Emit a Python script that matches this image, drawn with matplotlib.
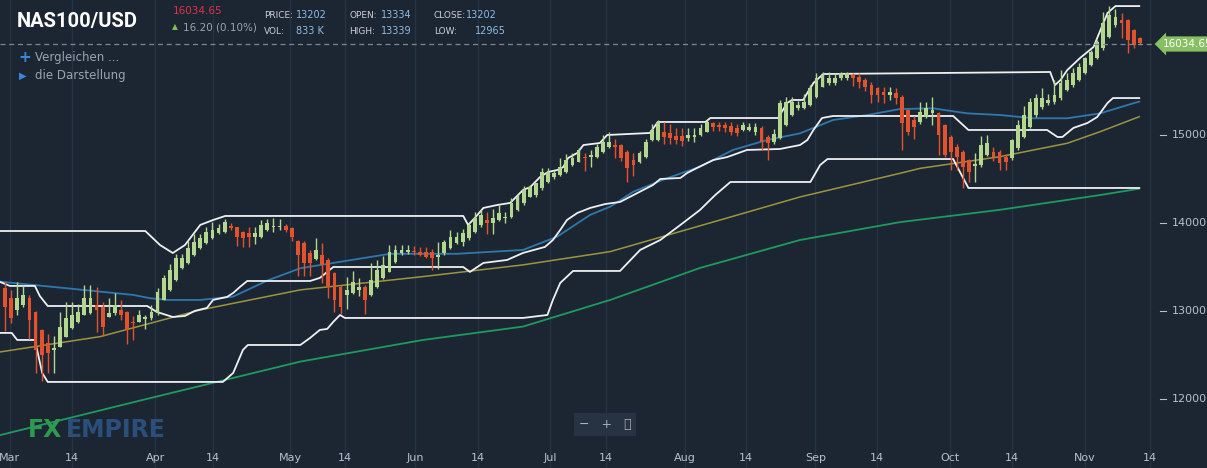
"""NAS100/USD daily candles with moving averages and channel lines (FX Empire style)."""

import matplotlib

matplotlib.use("Agg")
import matplotlib.pyplot as plt  # noqa: E402
import numpy as np  # noqa: E402

# ---- data --------------------------------------------------------------------
opens = [13258, 13145, 13012, 13069, 13145, 12990, 12785, 12634, 12560, 12596, 12709, 12804, 12880, 12955, 12974, 13069,
         13050, 12937, 12974, 13012, 12993, 12880, 12880, 12910, 12918, 12974, 13126, 13240, 13353, 13486, 13542, 13637,
         13713, 13770, 13826, 13883, 13902, 13967, 13951, 13902, 13883, 13845, 13845, 13921, 13950, 13950, 13967, 13940,
         13800, 13770, 13656, 13588, 13637, 13580, 13429, 13277, 13183, 13202, 13240, 13277, 13183, 13277, 13372, 13448,
         13561, 13656, 13670, 13680, 13675, 13675, 13675, 13618, 13656, 13713, 13770, 13789, 13826, 13902, 13978, 14035,
         13997, 14035, 14060, 14073, 14148, 14224, 14300, 14319, 14394, 14470, 14527, 14546, 14584, 14660, 14697, 14754,
         14754, 14754, 14811, 14860, 14886, 14886, 14811, 14716, 14697, 14754, 14943, 14943, 15038, 15019, 14988, 14988,
         14962, 14973, 15000, 15038, 15132, 15114, 15114, 15102, 15076, 15057, 15057, 15038, 15076, 14981, 14924, 14962,
         15114, 15227, 15303, 15303, 15341, 15435, 15549, 15587, 15587, 15644, 15644, 15682, 15655, 15625, 15568, 15530,
         15492, 15454, 15473, 15435, 15284, 15170, 15152, 15209, 15246, 15246, 15114, 14981, 14868, 14811, 14716, 14650,
         14659, 14773, 14811, 14811, 14754, 14735, 14849, 14981, 15095, 15227, 15322, 15360, 15379, 15417, 15511, 15568,
         15625, 15701, 15796, 15871, 15985, 16117, 16250, 16307, 16307, 16193, 16100]
highs = [13330, 13240, 13330, 13290, 13180, 13000, 12800, 12740, 12720, 12990, 13100, 13100, 13080, 13290, 13300, 13270,
         13100, 13150, 13200, 13120, 13000, 12940, 13010, 12960, 13070, 13260, 13410, 13530, 13650, 13650, 13800, 13870,
         13870, 13960, 14010, 13990, 14050, 14000, 13960, 13910, 13960, 13960, 14030, 14040, 14060, 14050, 13990, 13960,
         13810, 13800, 13690, 13830, 13770, 13600, 13440, 13290, 13390, 13450, 13380, 13290, 13540, 13580, 13630, 13750,
         13750, 13750, 13750, 13740, 13730, 13730, 13710, 13780, 13810, 13920, 13900, 13930, 14000, 14120, 14150, 14120,
         14160, 14200, 14120, 14280, 14330, 14420, 14430, 14460, 14620, 14620, 14600, 14740, 14780, 14790, 14850, 14800,
         14830, 14900, 15000, 15030, 14950, 14900, 14830, 14800, 14820, 14950, 15130, 15170, 15150, 15120, 15080, 15080,
         15080, 15080, 15120, 15170, 15150, 15150, 15150, 15150, 15120, 15150, 15140, 15140, 15100, 15000, 15070, 15400,
         15430, 15430, 15390, 15470, 15570, 15700, 15720, 15720, 15710, 15720, 15720, 15700, 15700, 15650, 15600, 15550,
         15550, 15550, 15530, 15450, 15300, 15220, 15370, 15370, 15430, 15260, 15130, 15000, 14900, 14830, 14730, 14790,
         14990, 15000, 14860, 14830, 14780, 14960, 15170, 15330, 15420, 15470, 15530, 15470, 15630, 15740, 15700, 15760,
         15820, 15890, 15970, 16080, 16400, 16470, 16430, 16390, 16320, 16210, 16110]
lows = [12770, 12860, 12950, 13040, 12680, 12300, 12210, 12300, 12300, 12590, 12700, 12790, 12860, 12950, 12970, 12760,
        12720, 12930, 12960, 12900, 12630, 12670, 12870, 12790, 12900, 12960, 13120, 13230, 13340, 13480, 13530, 13630,
        13700, 13760, 13820, 13870, 13890, 13920, 13740, 13730, 13730, 13760, 13830, 13910, 13900, 13920, 13900, 13800,
        13400, 13400, 13400, 13580, 13320, 13145, 12990, 12970, 13020, 13190, 13170, 12970, 13170, 13260, 13360, 13440,
        13550, 13640, 13650, 13640, 13620, 13600, 13470, 13480, 13640, 13700, 13760, 13740, 13810, 13890, 13960, 13880,
        13870, 14020, 14000, 14060, 14140, 14210, 14290, 14300, 14380, 14460, 14500, 14530, 14570, 14650, 14690, 14590,
        14640, 14740, 14800, 14850, 14740, 14700, 14470, 14530, 14680, 14740, 14930, 14930, 14900, 14900, 14900, 14880,
        14930, 14920, 14990, 15030, 15050, 15050, 15030, 15000, 14990, 15040, 15040, 15000, 14830, 14720, 14900, 14950,
        15100, 15220, 15280, 15290, 15330, 15420, 15540, 15570, 15570, 15630, 15630, 15560, 15530, 15500, 15360, 15380,
        15360, 15400, 15350, 14830, 15000, 14960, 15130, 15190, 15110, 14770, 14750, 14600, 14600, 14400, 14470, 14470,
        14640, 14760, 14700, 14600, 14600, 14720, 14830, 14970, 15080, 15210, 15300, 15340, 15350, 15400, 15500, 15550,
        15610, 15690, 15780, 15860, 15970, 16100, 16230, 16100, 15930, 15990, 16020]
closes = [13050, 12918, 13145, 13183, 12899, 12558, 12501, 12520, 12580, 12823, 12918, 12955, 12993, 13145, 13145, 13012,
          12823, 12974, 13069, 12955, 12785, 12860, 12955, 12935, 12993, 13220, 13372, 13467, 13599, 13599, 13713, 13789,
          13826, 13902, 13921, 13940, 14016, 13940, 13845, 13826, 13845, 13883, 13978, 13997, 13960, 13965, 13921, 13845,
          13637, 13543, 13543, 13694, 13524, 13277, 13126, 13050, 13240, 13334, 13277, 13126, 13353, 13467, 13524, 13675,
          13694, 13694, 13694, 13675, 13637, 13618, 13599, 13637, 13788, 13845, 13845, 13883, 13978, 14054, 14092, 13997,
          14054, 14111, 14073, 14224, 14300, 14376, 14413, 14451, 14584, 14584, 14565, 14641, 14716, 14735, 14830, 14735,
          14773, 14868, 14925, 14925, 14860, 14735, 14621, 14659, 14792, 14924, 15057, 15151, 14981, 14962, 14943, 14935,
          15000, 15000, 15076, 15151, 15095, 15095, 15076, 15038, 15019, 15114, 15095, 15095, 14924, 14905, 15011, 15360,
          15379, 15379, 15341, 15379, 15530, 15644, 15682, 15644, 15644, 15700, 15700, 15644, 15606, 15549, 15454, 15454,
          15454, 15492, 15416, 15132, 15038, 15095, 15265, 15303, 15284, 15000, 14773, 14811, 14754, 14641, 14584, 14670,
          14887, 14905, 14754, 14678, 14697, 14943, 15114, 15227, 15379, 15417, 15417, 15398, 15454, 15587, 15625, 15701,
          15777, 15871, 15947, 16060, 16269, 16363, 16345, 16269, 16079, 16023, 16042]

# moving averages: (candle index, value)
ma_blue_idx = [-0.8, 4.6, 10.2, 15.6, 21.0, 23.8, 26.6, 32.0, 37.4, 43.0, 48.4, 63.1, 74.1, 84.9, 90.5, 95.9, 99.2,
               103.0, 108.5, 113.9, 119.3, 124.9, 130.3, 135.7, 141.3, 146.7, 152.1, 157.7, 163.1, 168.5, 174.1,
               179.5, 184.9, 185.9]
ma_blue = [13334, 13296, 13258, 13220, 13183, 13145, 13126, 13126, 13164, 13346, 13486, 13650, 13650, 13694, 13845,
           14092, 14186, 14356, 14508, 14640, 14830, 14943, 15019, 15170, 15227, 15295, 15303, 15246, 15227, 15190,
           15190, 15246, 15360, 15379]
ma_olive_idx = [-0.8, 15.6, 32.0, 48.4, 68.5, 84.9, 99.2, 117.2, 130.3, 146.7, 150.0, 163.1, 174.1, 179.5, 185.9]
ma_olive = [12535, 12709, 13012, 13240, 13391, 13524, 13675, 14034, 14296, 14565, 14621, 14754, 14906, 15038, 15208]
ma_green_idx = [-0.8, 22.6, 48.4, 68.5, 84.9, 99.2, 113.9, 130.3, 146.7, 163.1, 179.5, 185.9]
ma_green = [11590, 11990, 12425, 12671, 12823, 13126, 13489, 13807, 14010, 14150, 14318, 14390]

# channel lines (white)
upper_idx = [-0.8, 23.0, 25.4, 27.5, 29.5, 32.0, 34.1, 36.1, 75.1, 75.9, 77.0, 78.4, 80.7, 82.8, 84.9, 86.1, 87.7,
             89.0, 90.5, 91.5, 92.3, 93.8, 94.8, 97.5, 98.7, 105.7, 107.0, 114.8, 115.6, 126.7, 128.2, 129.0, 130.8,
             132.5, 134.1, 171.3, 172.1, 173.0, 174.1, 176.2, 178.4, 180.7, 182.0, 185.9]
upper = [13909, 13909, 13750, 13659, 13750, 13978, 14034, 14080, 14080, 13978, 14057, 14171, 14205, 14228, 14375, 14409,
         14523, 14580, 14602, 14636, 14739, 14796, 14886, 14909, 15000, 15023, 15148, 15148, 15193, 15193, 15364, 15398,
         15398, 15591, 15693, 15716, 15568, 15625, 15738, 15875, 16000, 16386, 16465, 16465]
middle_idx = [-0.8, 0.8, 4.9, 5.7, 7.0, 23.3, 24.9, 27.5, 29.5, 31.1, 33.1, 34.1, 36.4, 37.4, 38.5, 39.7, 50.0, 51.6,
              53.8, 75.1, 76.2, 78.4, 82.3, 84.9, 88.5, 89.8, 91.0, 92.1, 93.8, 95.9, 98.4, 100.8, 104.6, 106.2, 107.4,
              110.7, 111.8, 113.4, 116.1, 118.4, 121.6, 127.0, 130.3, 131.5, 132.5, 133.9, 135.7, 155.4, 157.9, 170.8,
              172.5, 173.3, 175.1, 177.4, 179.0, 180.7, 181.6, 185.9]
middle = [13330, 13285, 13285, 13171, 13057, 13057, 12989, 12932, 12944, 13001, 13035, 13126, 13160, 13205, 13273, 13341,
          13341, 13376, 13500, 13500, 13444, 13546, 13580, 13660, 13728, 13807, 13921, 14034, 14114, 14171, 14216, 14239,
          14375, 14432, 14500, 14512, 14568, 14625, 14716, 14750, 14830, 14841, 14886, 14943, 15057, 15193, 15216, 15216,
          15057, 15057, 14977, 14977, 15080, 15136, 15204, 15364, 15420, 15420]
lower_idx = [-0.8, 1.1, 2.0, 4.9, 6.1, 7.0, 35.7, 37.4, 39.0, 39.8, 48.4, 50.0, 51.6, 52.8, 53.8, 54.9, 55.7, 84.9,
             88.9, 89.8, 91.0, 93.1, 100.8, 104.1, 107.4, 110.7, 113.9, 116.4, 118.9, 132.0, 133.6, 134.8, 155.4,
             157.9, 185.9]
lower = [12751, 12751, 12671, 12671, 12296, 12194, 12194, 12296, 12558, 12614, 12614, 12694, 12785, 12796, 12876, 12955,
         12921, 12921, 12955, 13126, 13319, 13455, 13455, 13694, 13807, 13978, 14148, 14318, 14466, 14466, 14659, 14727,
         14727, 14398, 14398]

tick_labels = ["Mar", "14", "Apr", "14", "May", "14", "Jun", "14", "Jul", "14", "Aug", "14", "Sep", "14", "Oct", "14",
               "Nov", "14"]
tick_idx = [0.8, 11.0, 24.6, 34.1, 46.7, 55.7, 67.2, 77.5, 89.3, 98.5, 111.5, 121.5, 132.8, 142.9, 154.9, 165.1,
            177.0, 187.7]
price_ticks = [12000, 13000, 14000, 15000]
last_price = 16034.65

# ---- style -------------------------------------------------------------------
BG = "#1c2633"
UP, DOWN = "#b4d78f", "#e4512d"
GRID = "#263344"
LABEL = "#b7c0ca"

W, H = 1207, 468
fig = plt.figure(figsize=(W / 100, H / 100), dpi=100, facecolor=BG)
ax = fig.add_axes([0, 0, 1160 / W, 1])
ax.set_facecolor(BG)
for s in ax.spines.values():
    s.set_visible(False)
ax.set_xlim(-0.82, 189.3)
ax.set_ylim(11216, 16534)
ax.set_xticks([])
ax.set_yticks([])

for t in tick_idx:
    ax.axvline(t, color=GRID, lw=1, zorder=0)

# moving averages
ax.plot(ma_green_idx, ma_green, color="#1f9a5e", lw=1.3, zorder=2)
ax.plot(ma_olive_idx, ma_olive, color="#9d9440", lw=1.1, zorder=2)
ax.plot(ma_blue_idx, ma_blue, color="#2f78ad", lw=1.3, zorder=2)

# channel lines
for xs, ys in ((upper_idx, upper), (middle_idx, middle), (lower_idx, lower)):
    ax.plot(xs, ys, color="#eef0f2", lw=1.3, zorder=3)

# candles
o, h, l, c = (np.asarray(a, float) for a in (opens, highs, lows, closes))
x = np.arange(len(c))
cols = np.where(c >= o, UP, DOWN)
ax.vlines(x, l, h, colors=cols, lw=1.0, zorder=4)
body = np.maximum(np.abs(c - o), 12)
ax.bar(x, body, bottom=np.minimum(o, c), width=0.62, color=cols, zorder=5, linewidth=0)

# last price line and tag (tag runs off the right edge, as in the original)
fig.add_artist(plt.Line2D([0, 1], [1 - 44 / H] * 2, color="#7d8793", lw=0.9, ls=(0, (4, 3))))
fig.text(1163 / W, 1 - 44 / H, f"{last_price:.2f}", color="white", fontsize=7.5, va="center", ha="left",
         bbox=dict(boxstyle="larrow,pad=0.25", fc="#86c062", ec="none"))

# price axis labels
for p in price_ticks:
    yf = (p - 11216) / (16534 - 11216)
    fig.text(1172 / W, yf, str(p), color=LABEL, fontsize=8, va="center", ha="left")
    fig.add_artist(plt.Line2D([1160 / W, 1166 / W], [yf, yf], color=LABEL, lw=0.8))

# date labels
for t, lab in zip(tick_idx, tick_labels):
    ax.text(t, 11216 + (10 / H) * (16534 - 11216), lab, color=LABEL, fontsize=8, ha="center", va="center")

# header
fig.text(17 / W, 1 - 22 / H, "NAS100/USD", color="white", fontsize=14.5, fontweight="bold", va="center",
         family="Roboto")
fig.text(173 / W, 1 - 11 / H, "16034.65", color="#e0304a", fontsize=7.5, va="center")
fig.text(172 / W, 1 - 27 / H, "\u25B2", color="#7cc04f", fontsize=5.5, va="center")
fig.text(183 / W, 1 - 27 / H, "16.20 (0.10%)", color="#9aa4ae", fontsize=7.5, va="center")
stats = [("PRICE:", "13202", 264, 296, 15), ("VOL:", "833 K", 264, 296, 31),
         ("OPEN:", "13334", 349, 381, 15), ("HIGH:", "13339", 349, 381, 31),
         ("CLOSE:", "13202", 434, 466, 15), ("LOW:", "12965", 434, 475, 31)]
for name, val, xn, xv, yy in stats:
    fig.text(xn / W, 1 - yy / H, name, color="#c9d0d7", fontsize=6.5, va="center")
    fig.text(xv / W, 1 - yy / H, val, color="#8dbbe3", fontsize=7, va="center")
fig.text(18 / W, 1 - 58 / H, "+", color="#3a86d8", fontsize=11, fontweight="bold", va="center")
fig.text(35 / W, 1 - 58 / H, "Vergleichen ...", color="#9aa4ae", fontsize=8.5, va="center")
fig.text(19 / W, 1 - 76 / H, "\u25B6", color="#3a86d8", fontsize=7, va="center")
fig.text(35 / W, 1 - 76 / H, "die Darstellung", color="#9aa4ae", fontsize=8.5, va="center")

# watermark and zoom controls
fig.text(28 / W, 1 - 430 / H, "FX", color="#2e9a4e", fontsize=17, fontweight="bold", va="center")
fig.text(66 / W, 1 - 430 / H, "EMPIRE", color="#2a4f7a", fontsize=17, fontweight="bold", va="center")
fig.text(605 / W, 1 - 424 / H, "\u2212   +   \u26F6", color="#aab2bb", fontsize=9, ha="center", va="center",
         bbox=dict(boxstyle="square,pad=0.4", fc="#273342", ec="none"))

fig.savefig("out.png", dpi=100, facecolor=BG)
